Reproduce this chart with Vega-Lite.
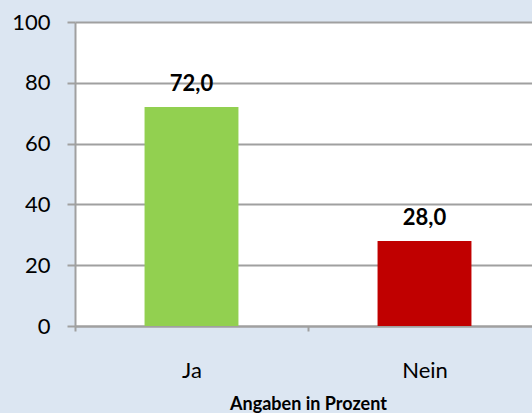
{
  "$schema": "https://vega.github.io/schema/vega-lite/v6.json",
  "width": 466,
  "height": 304,
  "autosize": {"type": "none"},
  "padding": {"left": 75, "top": 22, "right": 0, "bottom": 87},
  "background": "#dce6f2",
  "config": {
    "view": {"fill": "white", "stroke": null},
    "locale": {"number": {"decimal": ",", "thousands": ".", "grouping": [3], "currency": ["", " €"]}}
  },
  "data": {"values": [
    {"antwort": "Ja", "wert": 72.0},
    {"antwort": "Nein", "wert": 28.0}
  ]},
  "encoding": {
    "x": {
      "field": "antwort", "type": "nominal", "sort": null,
      "scale": {"paddingInner": 0, "paddingOuter": 0},
      "axis": {
        "title": "Angaben in Prozent",
        "titleFont": "Lato", "titleFontWeight": "bold", "titleFontSize": 18, "titleColor": "black",
        "titleBaseline": "alphabetic", "titleY": 83,
        "tickBand": "extent", "ticks": true, "tickSize": 5, "tickWidth": 2, "tickColor": "#a0a0a0",
        "domainColor": "#a0a0a0", "domainWidth": 2,
        "labelFont": "Lato", "labelFontSize": 22, "labelColor": "black", "labelAngle": 0,
        "labelBaseline": "alphabetic", "labelPadding": 46,
        "grid": false
      }
    },
    "y": {
      "field": "wert", "type": "quantitative",
      "scale": {"domain": [0, 100], "nice": false},
      "axis": {
        "title": null,
        "values": [0, 20, 40, 60, 80, 100],
        "format": "d",
        "grid": true, "gridColor": "#a0a0a0", "gridWidth": 2,
        "domainColor": "#a0a0a0", "domainWidth": 2,
        "tickColor": "#a0a0a0", "tickWidth": 2, "tickSize": 8,
        "labelFont": "Lato", "labelFontSize": 22, "labelColor": "black", "labelPadding": 17
      }
    }
  },
  "layer": [
    {
      "mark": {"type": "bar", "width": {"band": 0.403}},
      "encoding": {
        "color": {
          "field": "antwort", "type": "nominal",
          "scale": {"domain": ["Ja", "Nein"], "range": ["#92d050", "#c00000"]},
          "legend": null
        }
      }
    },
    {
      "mark": {"type": "text", "font": "Lato", "fontWeight": "bold", "fontSize": 22, "baseline": "alphabetic", "dy": -16, "color": "black"},
      "encoding": {
        "text": {"field": "wert", "type": "quantitative", "format": ".1f"}
      }
    }
  ]
}
